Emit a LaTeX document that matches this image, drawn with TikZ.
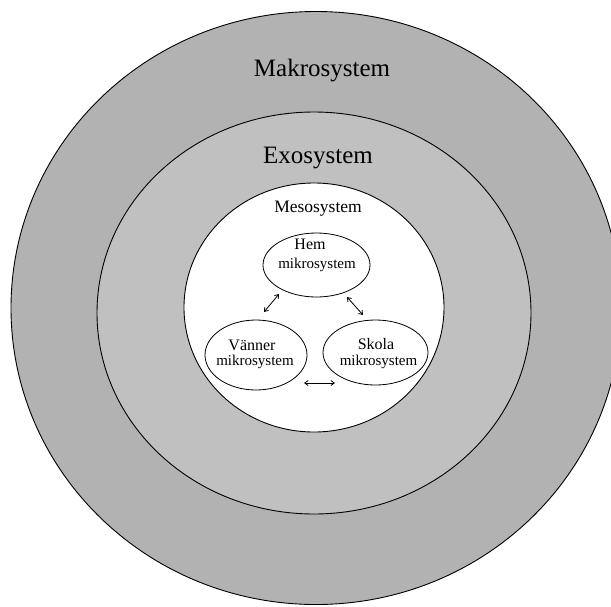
\documentclass[tikz,border=0pt]{standalone}
\usepackage{fontspec}
\setmainfont{Liberation Serif}
\usetikzlibrary{arrows.meta}
\definecolor{makrogray}{RGB}{178,178,178}
\definecolor{exogray}{RGB}{192,192,192}
\begin{document}
\begin{tikzpicture}[x=1pt,y=-1pt,
  ring/.style={draw=black,line width=0.9pt},
  big/.style={font=\fontsize{25}{28}\selectfont,inner sep=0pt},
  meso/.style={font=\fontsize{17.5}{20}\selectfont,inner sep=0pt},
  lab/.style={font=\fontsize{16}{18}\selectfont,inner sep=0pt},
  sub/.style={font=\fontsize{15}{17}\selectfont,inner sep=0pt},
  link/.style={line width=0.8pt,{Straight Barb[length=3.5pt,width=5pt]}-{Straight Barb[length=3.5pt,width=5pt]}}
]
\useasboundingbox (0,0) rectangle (611,606);
\clip (0,0) rectangle (611,606);
% rings
\draw[ring,fill=makrogray] (316,308) ellipse [x radius=305,y radius=296.5];
\draw[ring,fill=exogray] (314,313) ellipse [x radius=217,y radius=201];
\draw[ring,fill=white] (314,307.5) ellipse [x radius=130,y radius=124.5];
% micro systems
\draw[ring,line width=0.8pt,fill=white] (316.5,265) ellipse [x radius=53.5,y radius=32];
\draw[ring,line width=0.8pt,fill=white] (256,355) ellipse [x radius=51,y radius=35];
\draw[ring,line width=0.8pt,fill=white] (375.5,352.5) ellipse [x radius=52.5,y radius=32.5];
% labels
\node[big] (makro) at (322,71) {Makrosystem};
\node[big] (exo) at (318,158) {Exosystem};
\node[meso] (mesol) at (318,209) {Mesosystem};
\node[lab] (hem) at (310,244) {Hem};
\node[sub] (hemm) at (317,265) {mikrosystem};
\node[lab] (van) at (252,345) {Vänner};
\node[sub] (vanm) at (255,362) {mikrosystem};
\node[lab] (sko) at (376,344) {Skola};
\node[sub] (skom) at (378.5,362) {mikrosystem};
% arrows
\coordinate (a1) at (279,294);
\coordinate (a2) at (264,312);
\coordinate (b1) at (347,297);
\coordinate (b2) at (363,315);
\coordinate (c1) at (304,383);
\coordinate (c2) at (335,383);
\draw[link] (a1) -- (a2);
\draw[link] (b1) -- (b2);
\draw[link] (c1) -- (c2);
\end{tikzpicture}
\end{document}
